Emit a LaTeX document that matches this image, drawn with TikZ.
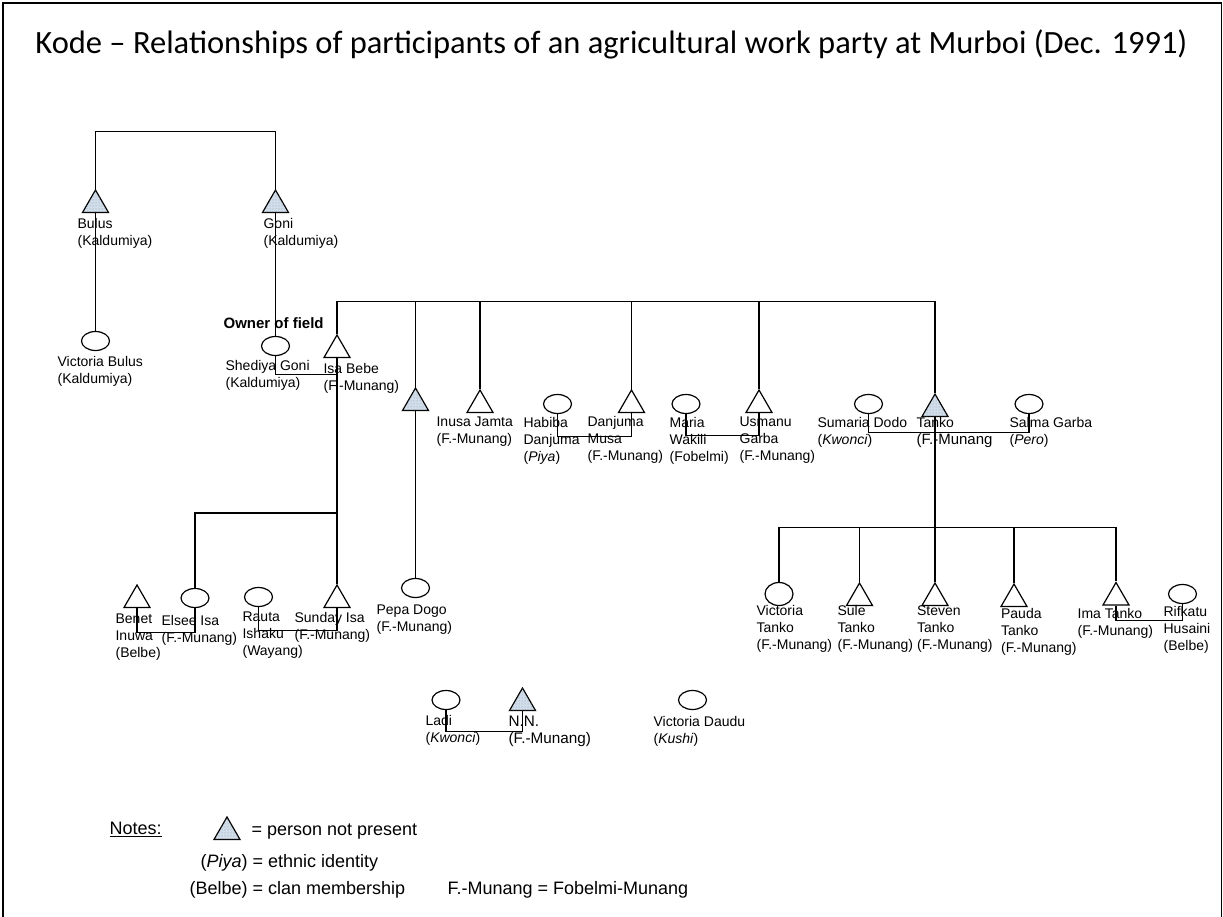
\documentclass[tikz,border=0pt]{standalone}
\usepackage{fontspec}
\setmainfont{Liberation Sans}
\newfontfamily\titlefont{Carlito}
\usetikzlibrary{shapes.geometric,patterns}

\begin{document}
\begin{tikzpicture}[x=1pt, y=-1pt, line width=1.2pt,
        male/.style={draw, regular polygon, regular polygon sides=3, minimum size=30pt, inner sep=0pt},
        absent/.style={male, fill={rgb,255:red,208;green,221;blue,235}, postaction={pattern=dots, pattern color=gray!80}},
        female/.style={draw, ellipse, minimum width=28pt, minimum height=19pt, inner sep=0pt},
        lbl/.style={anchor=north west, inner sep=0pt, yshift=7.6pt, align=left, execute at begin node=\strut, font=\fontsize{14}{17}\selectfont},
        note/.style={anchor=north west, inner sep=0pt, yshift=7pt, font=\fontsize{18}{22}\selectfont}]
                \useasboundingbox (0,0) rectangle (1223,917);
                \draw [line width=1.5pt] (3,917) -- (3,3) -- (1221.5,3) -- (1221.5,917);
                \node (title) at (611.5,44) {\titlefont\fontsize{32.5}{38}\selectfont Kode – Relationships of participants of an agricultural work party at Murboi (Dec. 1991)};

                \node [absent] (bulus) at (95.5,205) {};
                \node [absent] (goni) at (275.5,205) {};
                \node [female] (vicbulus) at (95.5,341) {};
                \node [female] (shediya) at (275.5,346) {};
                \node [male] (isa) at (337,350) {};
                \node [absent] (pepaf) at (415.5,403) {};
                \node [male] (inusa) at (480,405) {};
                \node [female] (habiba) at (557.5,404) {};
                \node [male] (danjuma) at (631.5,405) {};
                \node [female] (maria) at (686,404) {};
                \node [male] (usmanu) at (759,405) {};
                \node [female] (sumaria) at (868.5,404) {};
                \node [absent] (tanko) at (935,409) {};
                \node [female] (salma) at (1029,404) {};
                \node [male] (benet) at (137,600) {};
                \node [female] (elsee) at (195,598) {};
                \node [female] (rauta) at (258.5,597) {};
                \node [male] (sunday) at (337,600) {};
                \node [female] (pepa) at (415.5,588) {};
                \node [female, minimum height=23pt] (victanko) at (779,594) {};
                \node [male] (sule) at (859.5,598) {};
                \node [male] (steven) at (935,598) {};
                \node [male] (pauda) at (1014,599) {};
                \node [male] (ima) at (1116,597.5) {};
                \node [female] (rifkatu) at (1182.5,594) {};
                \node [female] (ladi) at (446,700) {};
                \node [absent] (nn) at (522.5,703) {};
                \node [female] (vicdaudu) at (692.5,700) {};

                \coordinate (sibbar) at (0,301.5);
                \coordinate (isakids) at (0,513);
                \coordinate (tankokids) at (0,527.5);

                \draw (bulus.north) -- ++(0,-57) -| (goni.north);
                \draw (bulus.south) -- (vicbulus.north);
                \draw (goni.south) -- (shediya.north);
                \draw (shediya.south) -- ++(0,18) -| (isa.south);
                \draw (isa.north) |- (tanko.north |- sibbar) -- (tanko.north);
                \draw (pepaf.north) -- (pepaf.north |- sibbar);
                \draw (inusa.north) -- (inusa.north |- sibbar);
                \draw (danjuma.north) -- (danjuma.north |- sibbar);
                \draw (usmanu.north) -- (usmanu.north |- sibbar);
                \draw (pepaf.south) -- (pepa.north);
                \draw (habiba.south) -- ++(0,22.5) -| (danjuma.south);
                \draw (maria.south) -- ++(0,21.5) -| (usmanu.south);
                \draw (sumaria.south) -- ++(0,18) -| (salma.south);
                \draw (isa.south) -- (sunday.north);
                \draw (elsee.north) |- (isa.south |- isakids);
                \draw (benet.south) -- ++(0,24) -| (elsee.south);
                \draw (rauta.south) -- ++(0,23) -| (sunday.south);
                \draw (tanko.south) -- (steven.north);
                \draw (victanko.north) |- (ima.north |- tankokids) -- (ima.north);
                \draw (sule.north) -- (sule.north |- tankokids);
                \draw (pauda.north) -- (pauda.north |- tankokids);
                \draw (ima.south) -- ++(0,15) -| (rifkatu.south);
                \draw (ladi.south) -- ++(0,21.5) -| (nn.south);

                \node [lbl] (lbulus) at (77,225) {Bulus\\(Kaldumiya)};
                \node [lbl] (lgoni) at (263,225) {Goni\\(Kaldumiya)};
                \node [lbl] (lvicbulus) at (57,363) {Victoria Bulus\\(Kaldumiya)};
                \node [lbl, font=\bfseries\fontsize{15}{17}\selectfont] (owner) at (223,324) {Owner of field};
                \node [lbl] (lshediya) at (225,367) {Shediya Goni\\(Kaldumiya)};
                \node [lbl] (lisa) at (323,370) {Isa Bebe\\(F.-Munang)};
                \node [lbl] (linusa) at (436,424) {Inusa Jamta\\(F.-Munang)};
                \node [lbl] (lhabiba) at (523,424) {Habiba\\Danjuma\\(\textit{Piya})};
                \node [lbl] (ldanjuma) at (587,423) {Danjuma\\Musa\\(F.-Munang)};
                \node [lbl] (lmaria) at (669,424) {Maria\\Wakili\\(Fobelmi)};
                \node [lbl] (lusmanu) at (739,424) {Usmanu\\Garba\\(F.-Munang)};
                \node [lbl] (lsumaria) at (817,424) {Sumaria Dodo\\(\textit{Kwonci})};
                \node [lbl] (ltanko) at (916,424) {Tanko\\{\fontsize{15}{17}\selectfont(F.-Munang}};
                \node [lbl] (lsalma) at (1009,424) {Salma Garba\\(\textit{Pero})};
                \node [lbl] (lbenet) at (115,621) {Benet\\Inuwa\\(Belbe)};
                \node [lbl] (lelsee) at (161,622) {Elsee Isa\\(F.-Munang)};
                \node [lbl] (lrauta) at (242,619) {Rauta\\Ishaku\\(Wayang)};
                \node [lbl] (lsunday) at (294,619) {Sunday Isa\\(F.-Munang)};
                \node [lbl] (lpepa) at (376,612) {Pepa Dogo\\(F.-Munang)};
                \node [lbl] (lvictanko) at (756,612) {Victoria\\Tanko\\(F.-Munang)};
                \node [lbl] (lsule) at (837,612) {Sule\\Tanko\\(F.-Munang)};
                \node [lbl] (lsteven) at (916.5,613) {Steven\\Tanko\\(F.-Munang)};
                \node [lbl] (lpauda) at (1000.5,615) {Pauda\\Tanko\\(F.-Munang)};
                \node [lbl] (lima) at (1077,615) {Ima Tanko\\(F.-Munang)};
                \node [lbl] (lrifkatu) at (1163,613) {Rifkatu\\Husaini\\(Belbe)};
                \node [lbl] (lladi) at (425,722) {Ladi\\(\textit{Kwonci})};
                \node [lbl, font=\fontsize{15.3}{17.3}\selectfont] (lnn) at (508,723) {N.N.\\(F.-Munang)};
                \node [lbl] (lvicdaudu) at (653,723) {Victoria Daudu\\(\textit{Kushi})};

                \node [note] (notes) at (109,829) {\underline{Notes:}};
                \node [absent] (key) at (227,832) {};
                \node [note] (keytext) at (251,830) {= person not present};
                \node [note] (ethnic) at (200,861) {(\textit{Piya}) = ethnic identity};
                \node [note] (clan) at (189,888) {(Belbe) = clan membership};
                \node [note] (abbrev) at (447,888) {F.-Munang = Fobelmi-Munang};
            \end{tikzpicture}
\end{document}
